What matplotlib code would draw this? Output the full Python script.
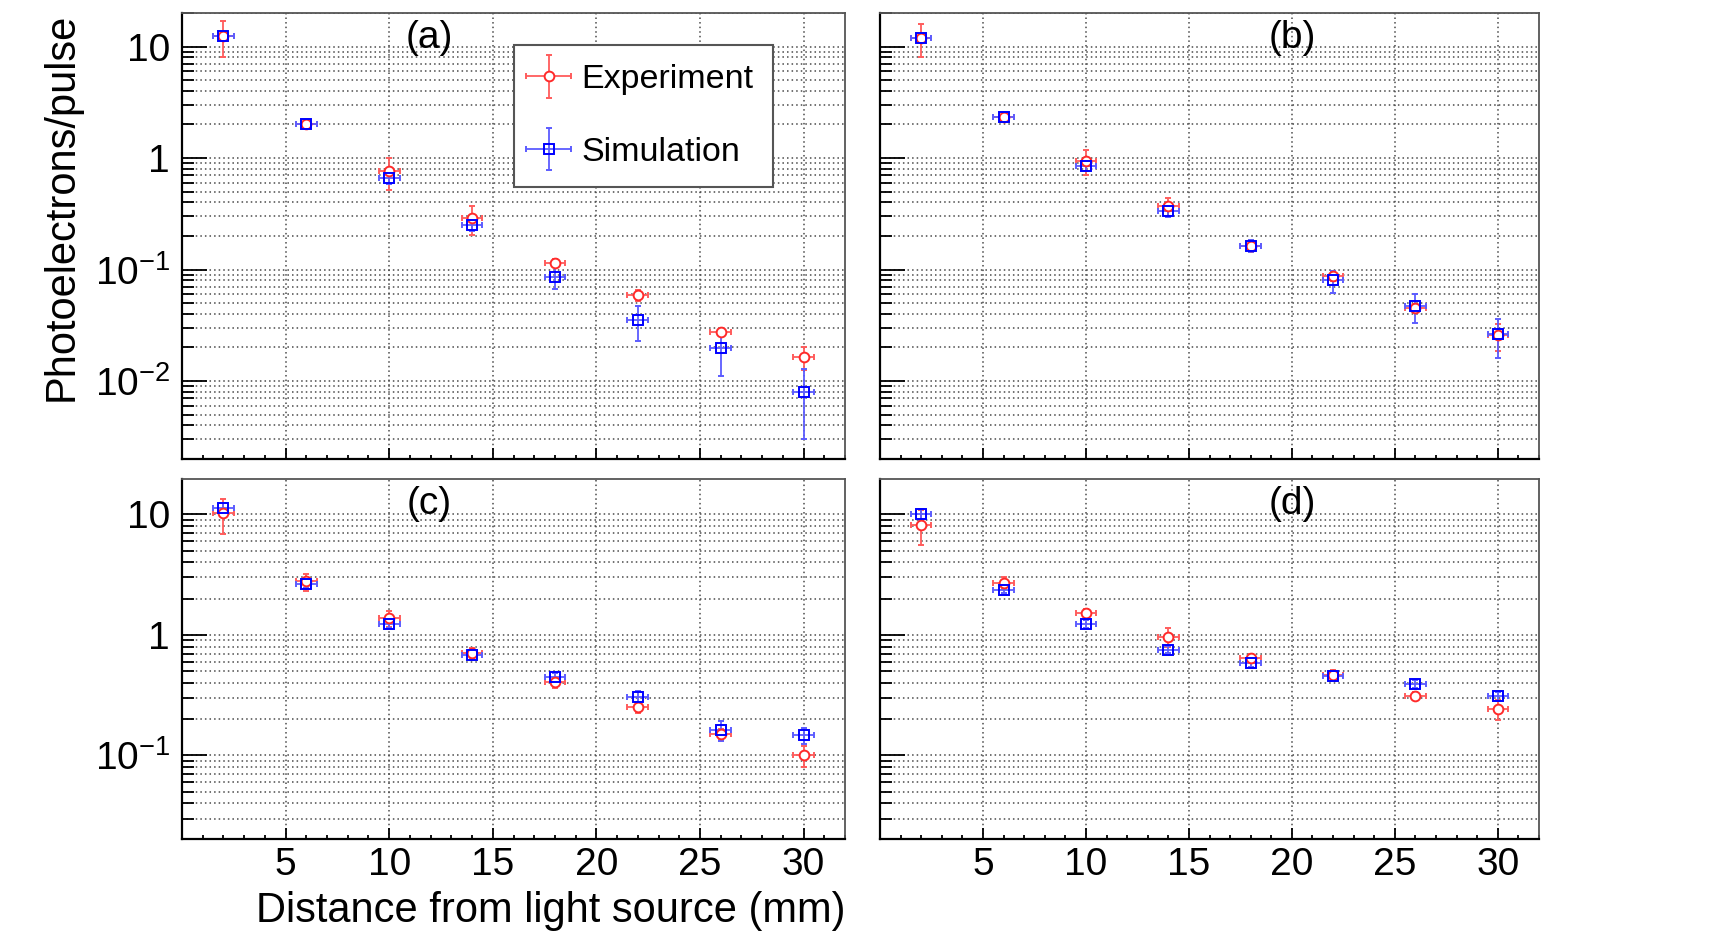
import matplotlib
matplotlib.use("Agg")
import matplotlib.pyplot as plt
from matplotlib.ticker import LogLocator, FixedLocator, MultipleLocator, FuncFormatter, NullFormatter
from matplotlib.legend_handler import HandlerErrorbar
from matplotlib.container import ErrorbarContainer
import numpy as np

plt.rcParams['font.family'] = ['Liberation Sans', 'DejaVu Sans']
plt.rcParams['mathtext.fontset'] = 'custom'
plt.rcParams['mathtext.rm'] = 'Liberation Sans'

# ---------------- data ----------------
distance = [2, 6, 10, 14, 18, 22, 26, 30]
distance_err = [0.5] * 8

a_exp = [12.4, 2.03, 0.76, 0.29, 0.115, 0.059, 0.0275, 0.0164]
a_exp_err = [4.4, 0.1, 0.24, 0.085, 0.01, 0.007, 0.002, 0.0038]
a_sim = [12.4, 2.0, 0.656, 0.249, 0.0855, 0.035, 0.0196, 0.0079]
a_sim_err = [1.0, 0.1, 0.07, 0.027, 0.019, 0.012, 0.0085, 0.0049]

b_exp = [11.97, 2.32, 0.95, 0.371, 0.164, 0.0873, 0.0455, 0.0257]
b_exp_err = [3.9, 0.15, 0.24, 0.066, 0.02, 0.008, 0.004, 0.007]
b_sim = [11.97, 2.32, 0.845, 0.334, 0.164, 0.080, 0.047, 0.0262]
b_sim_err = [0.8, 0.15, 0.08, 0.04, 0.02, 0.018, 0.0135, 0.01]

c_exp = [10.2, 2.77, 1.37, 0.71, 0.403, 0.250, 0.150, 0.100]
c_exp_err = [3.3, 0.45, 0.2, 0.07, 0.04, 0.025, 0.015, 0.02]
c_sim = [11.2, 2.65, 1.23, 0.683, 0.447, 0.303, 0.163, 0.1466]
c_sim_err = [1.2, 0.2, 0.1, 0.07, 0.04, 0.04, 0.03, 0.022]

d_exp = [8.15, 2.71, 1.53, 0.968, 0.648, 0.467, 0.313, 0.244]
d_exp_err = [2.6, 0.3, 0.12, 0.18, 0.04, 0.04, 0.025, 0.046]
d_sim = [10.0, 2.36, 1.23, 0.751, 0.590, 0.457, 0.391, 0.310]
d_sim_err = [1.0, 0.15, 0.1, 0.05, 0.05, 0.04, 0.03, 0.025]

panel_labels = ['(a)', '(b)', '(c)', '(d)']
series_labels = ['Experiment', 'Simulation']
xlabel = 'Distance from light source (mm)'
ylabel = 'Photoelectrons/pulse'
x_ticks = [5, 10, 15, 20, 25, 30]

# ---------------- layout ----------------
W, H = 1726, 941
fig = plt.figure(figsize=(W / 100, H / 100), dpi=100)


def pos(l, t, r, b):
    return [l / W, 1 - b / H, (r - l) / W, (b - t) / H]


ax_a = fig.add_axes(pos(182, 13, 845, 459))
ax_b = fig.add_axes(pos(880, 13, 1539, 459))
ax_c = fig.add_axes(pos(182, 479, 845, 839))
ax_d = fig.add_axes(pos(880, 479, 1539, 839))

PX = 72 / 100  # points per pixel

RED_BAR = '#ff5c5c'
RED_MK = '#ff2a2a'
BLUE_BAR = '#5c5cff'
BLUE_MK = '#0000ff'


def ylab(v, p):
    e = int(round(np.log10(v)))
    if e == 0:
        return '1'
    if e == 1:
        return '10'
    return r'$\mathregular{10^{%d}}$' % e


def draw(ax, exp, exp_err, sim, sim_err, ylim, label, lx, show_xlabels, show_ylabels):
    ce = ax.errorbar(distance, exp, yerr=exp_err, xerr=distance_err, fmt='o',
                     ms=7, mfc='white', mec=RED_MK, mew=1.4, ecolor=RED_BAR,
                     elinewidth=1.3, capsize=2.3, capthick=1.6, label=series_labels[0])
    cs = ax.errorbar(distance, sim, yerr=sim_err, xerr=distance_err, fmt='s',
                     ms=7, mfc='none', mec=BLUE_MK, mew=1.4, ecolor=BLUE_BAR,
                     elinewidth=1.3, capsize=2.3, capthick=1.6, label=series_labels[1])
    for c, zb, zm in ((ce, 2.0, 3.0), (cs, 2.1, 3.1)):
        c[0].set_zorder(zm)
        for cl in c[1]:
            cl.set_zorder(zb)
        for bl in c[2]:
            bl.set_zorder(zb)
    ax.set_yscale('log')
    ax.set_xlim(0, 32)
    ax.set_ylim(*ylim)
    ax.xaxis.set_major_locator(FixedLocator(x_ticks))
    ax.xaxis.set_minor_locator(MultipleLocator(1))
    ax.yaxis.set_major_locator(LogLocator(base=10))
    ax.yaxis.set_minor_locator(LogLocator(base=10, subs=np.arange(2, 10)))
    ax.yaxis.set_minor_formatter(NullFormatter())
    if show_ylabels:
        ax.yaxis.set_major_formatter(FuncFormatter(ylab))
    else:
        ax.yaxis.set_major_formatter(NullFormatter())
    if not show_xlabels:
        ax.xaxis.set_major_formatter(NullFormatter())
    ax.tick_params(axis='y', which='major', direction='in', length=25 * PX, width=1.3,
                   labelsize=28, pad=12 * PX, left=True, right=False)
    ax.tick_params(axis='y', which='minor', direction='in', length=12 * PX, width=1.3,
                   left=True, right=False)
    ax.tick_params(axis='x', which='major', direction='in', length=11 * PX, width=1.3,
                   labelsize=28, pad=8 * PX, bottom=True, top=False)
    ax.tick_params(axis='x', which='minor', direction='in', length=4 * PX, width=1.3,
                   bottom=True, top=False)
    ax.grid(True, which='major', axis='x', linestyle=(0, (1, 2)), linewidth=1.1, color='#4a4a4a')
    ax.grid(True, which='both', axis='y', linestyle=(0, (1, 2)), linewidth=1.1, color='#4a4a4a')
    ax.set_axisbelow(True)
    for s in ('left', 'bottom'):
        ax.spines[s].set_linewidth(1.6)
        ax.spines[s].set_color('black')
    for s in ('top', 'right'):
        ax.spines[s].set_linewidth(1.3)
        ax.spines[s].set_color('#555555')
    hpx = ax.get_position().height * H
    ax.text(lx, 1 - 25 / hpx, label, transform=ax.transAxes, ha='center', va='center',
            fontsize=28)
    return ce, cs


ce, cs = draw(ax_a, a_exp, a_exp_err, a_sim, a_sim_err, (2.0e-3, 20.0), panel_labels[0], 0.373, False, True)
draw(ax_b, b_exp, b_exp_err, b_sim, b_sim_err, (2.0e-3, 20.0), panel_labels[1], 0.625, False, False)
draw(ax_c, c_exp, c_exp_err, c_sim, c_sim_err, (0.0203, 19.6), panel_labels[2], 0.373, True, True)
draw(ax_d, d_exp, d_exp_err, d_sim, d_sim_err, (0.0203, 19.6), panel_labels[3], 0.625, True, False)

# legend in panel (a)
apos = ax_a.get_position()
lx0 = (514 - 182) / (apos.width * W)
ly0 = 1 - (45 - 13) / (apos.height * H)
leg = ax_a.legend(handles=[ce, cs], labels=series_labels, loc='upper left',
                  bbox_to_anchor=(lx0, ly0), fontsize=24.5, frameon=True, fancybox=False,
                  shadow=False, borderpad=0.57, labelspacing=1.22, handlelength=0.9,
                  handletextpad=0.5, borderaxespad=0.0,
                  handler_map={ErrorbarContainer: HandlerErrorbar(xerr_size=0.66, yerr_size=0.63)})
leg.get_frame().set_edgecolor('#555555')
leg.get_frame().set_linewidth(1.5)
leg.get_frame().set_facecolor('white')
leg.get_frame().set_alpha(1.0)
leg.set_zorder(10)

# axis titles
fig.text(61.5 / W, 1 - 13 / H, ylabel, rotation=90, ha='center', va='top', fontsize=30)
fig.text(845 / W, 1 - 911 / H, xlabel, ha='right', va='center', fontsize=30)

fig.savefig('out.png', dpi=100, facecolor='white')
